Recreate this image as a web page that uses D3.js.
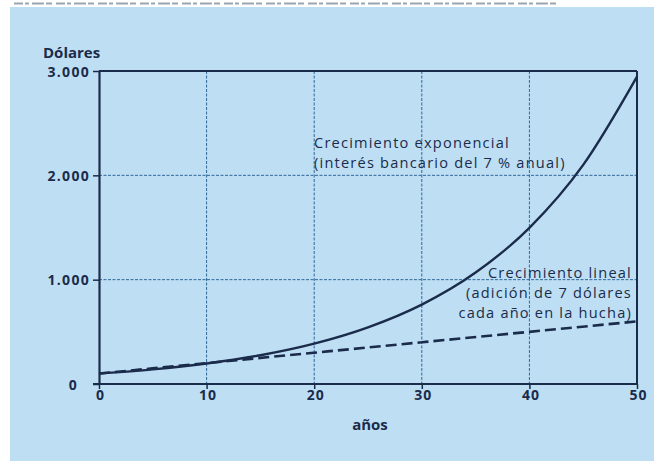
<!DOCTYPE html>
<html><head><meta charset="utf-8">
<script src="https://cdn.jsdelivr.net/npm/d3@7"></script>
<style>
html,body{margin:0;padding:0;background:#fff;}
svg{display:block;}
text{font-family:"Open Sans","Noto Sans",sans-serif;fill:#1b2b4b;}
</style></head>
<body>
<svg id="chart" width="654" height="461"></svg>
<script>
// ---- data ----
const years = [0, 5, 10, 15, 20, 25, 30, 35, 40, 45, 50];
const exponentialValues = [100, 140, 197, 276, 387, 543, 761, 1068, 1497, 2100, 2946];
const linearYears = [0, 10, 20, 30, 40, 50];
const linearValues = [100, 200, 300, 400, 500, 600];
const xTicks = [0, 10, 20, 30, 40, 50];
const yTicks = [0, 1000, 2000, 3000];
const yTickLabels = ["0", "1.000", "2.000", "3.000"];
const yTitle = "Dólares";
const xTitle = "años";
const expLabel = ["Crecimiento exponencial", "(interés bancario del 7 % anual)"];
const linLabel = ["Crecimiento lineal", "(adición de 7 dólares", "cada año en la hucha)"];

const ink = "#1b2b4b";
const svg = d3.select("#chart");
// background
svg.append("rect").attr("x",0).attr("y",0).attr("width",654).attr("height",461).attr("fill","#fff");
svg.append("rect").attr("x",10).attr("y",7).attr("width",644).attr("height",454).attr("fill","#bedff3");
// cropped text remnant at the top edge
svg.append("line").attr("x1",14).attr("x2",560).attr("y1",3.5).attr("y2",3.5)
  .attr("stroke","#5a6a80").attr("stroke-width",2).attr("stroke-dasharray","9,2,4,3,12,2,6,4").attr("opacity",0.6);

const x = d3.scaleLinear().domain([0,50]).range([99,637]);
const y = d3.scaleLinear().domain([0,3000]).range([384,71]);

// grid
const grid = svg.append("g");
xTicks.filter(d => d>0 && d<50).forEach(d => {
  grid.append("line").attr("x1",x(d)).attr("x2",x(d)).attr("y1",y(3000)).attr("y2",y(0))
    .attr("stroke","#2f679a").attr("stroke-width",1).attr("stroke-dasharray","3,1.5");
});
yTicks.filter(d => d>0 && d<3000).forEach(d => {
  grid.append("line").attr("x1",x(0)).attr("x2",x(50)).attr("y1",y(d)).attr("y2",y(d))
    .attr("stroke","#2f679a").attr("stroke-width",1).attr("stroke-dasharray","3,1.5");
});

// frame (top & right)
svg.append("line").attr("x1",x(0)).attr("x2",x(50)).attr("y1",y(3000)).attr("y2",y(3000)).attr("stroke",ink).attr("stroke-width",2);
svg.append("line").attr("x1",x(50)).attr("x2",x(50)).attr("y1",y(3000)).attr("y2",y(0)).attr("stroke",ink).attr("stroke-width",2);

// axes
const xAxis = d3.axisBottom(x).tickValues(xTicks).tickSize(5).tickSizeOuter(0).tickFormat(d3.format("d"));
const gx = svg.append("g").attr("transform",`translate(0,${y(0)})`).call(xAxis);
gx.select(".domain").attr("stroke",ink).attr("stroke-width",2.2).attr("d",`M${x(0)-6},0H${x(50)}`);
gx.selectAll(".tick line").attr("stroke",ink).attr("stroke-width",1.5);
gx.selectAll(".tick text").attr("y",16).attr("dy",0).style("font-size","14px").style("font-weight","700")
  .attr("fill",ink).style("letter-spacing","1px").attr("dx",1);

const yAxis = d3.axisLeft(y).tickValues(yTicks).tickSize(6).tickSizeOuter(0).tickFormat((d,i)=>yTickLabels[i]);
const gy = svg.append("g").attr("transform",`translate(${x(0)},0)`).call(yAxis);
gy.select(".domain").attr("stroke",ink).attr("stroke-width",2.2);
gy.selectAll(".tick line").attr("stroke",ink).attr("stroke-width",1.5);
gy.selectAll(".tick text").attr("x",-9).attr("dy","0.36em").style("font-size","14px").style("font-weight","700")
  .attr("fill",ink).style("letter-spacing","1.3px");
gy.selectAll(".tick text").filter(d => d===0).attr("x",-21);

// titles
svg.append("text").attr("x",43).attr("y",58).text(yTitle).style("font-size","15px").style("font-weight","700");
svg.append("text").attr("x",370).attr("y",430).attr("text-anchor","middle").text(xTitle).style("font-size","15px").style("font-weight","700");

// series
const expData = years.map((d,i)=>[d, exponentialValues[i]]);
const linData = linearYears.map((d,i)=>[d, linearValues[i]]);
const line = d3.line().x(d=>x(d[0])).y(d=>y(d[1])).curve(d3.curveMonotoneX);
svg.append("path").datum(linData).attr("d",line).attr("fill","none").attr("stroke",ink)
  .attr("stroke-width",2.6).attr("stroke-dasharray","11,5");
svg.append("path").datum(expData).attr("d",line).attr("fill","none").attr("stroke",ink)
  .attr("stroke-width",2.4);

// annotations
const annStyle = sel => sel.style("font-size","14.6px").style("letter-spacing","1.2px").style("font-weight","500");
expLabel.forEach((t,i)=>{
  svg.append("text").attr("x",314).attr("y",148+i*20).text(t).call(annStyle);
});
linLabel.forEach((t,i)=>{
  svg.append("text").attr("x",632).attr("y",278+i*20).attr("text-anchor","end").text(t).call(annStyle);
});
</script>
</body></html>
